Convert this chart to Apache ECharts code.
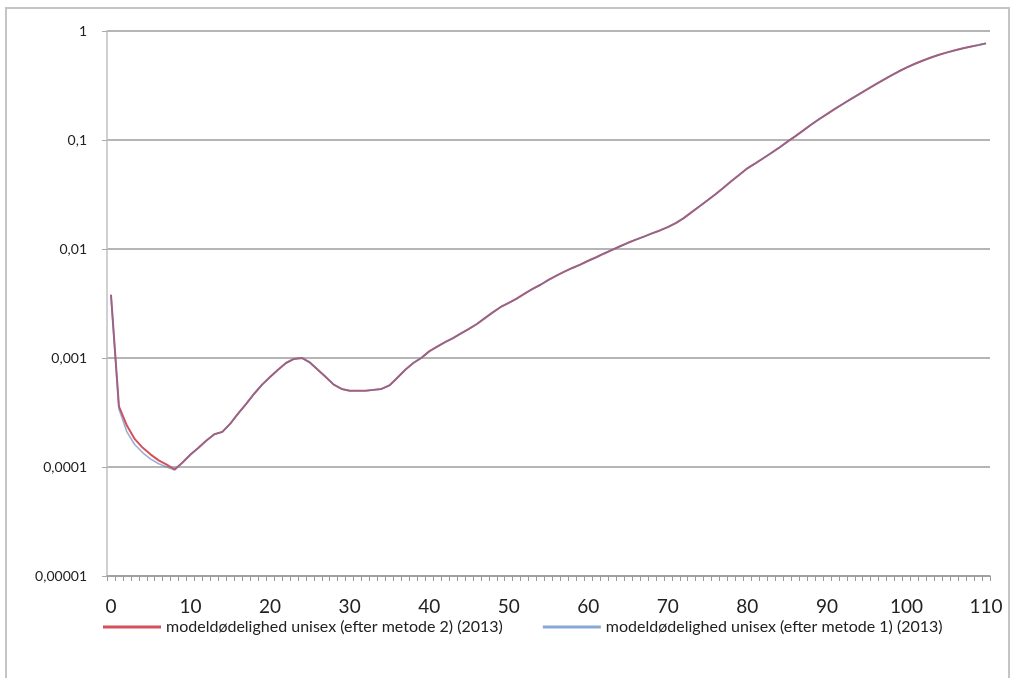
<!DOCTYPE html>
<html>
<head>
<meta charset="utf-8">
<script src="https://cdn.jsdelivr.net/npm/echarts@6/dist/echarts.min.js"></script>
<style>
  html, body {margin:0; padding:0; background:#fff;}
  #main {width:1014px; height:678px;}
</style>
</head>
<body>
<div id="main"></div>
<script type="text/javascript">
// alder 0..110
var ages = [];
for (var a = 0; a <= 110; a++) ages.push(String(a));

var yTickLabels = ['0,00001', '0,0001', '0,001', '0,01', '0,1', '1'];

var seriesNames = [
  'modeldødelighed unisex (efter metode 2) (2013)',
  'modeldødelighed unisex (efter metode 1) (2013)'
];

// metode 1 (blaa)
var metode1 = [
  0.0038, 0.00034, 0.00021, 0.00016, 0.000135, 0.000118, 0.000107, 0.0001, 0.000094, 0.00011,
  0.00013, 0.00015, 0.000175, 0.0002, 0.00021, 0.00025, 0.00031, 0.00038, 0.00047, 0.00057,
  0.00067, 0.00078, 0.0009, 0.00098, 0.001, 0.00091, 0.00078, 0.00067, 0.00057, 0.00052,
  0.0005, 0.0005, 0.0005, 0.00051, 0.00052, 0.00056, 0.00066, 0.00078, 0.0009, 0.001,
  0.00115, 0.00127, 0.0014, 0.00152, 0.00168, 0.00185, 0.00205, 0.00232, 0.00262, 0.00294,
  0.0032, 0.0035, 0.0039, 0.0043, 0.0047, 0.0052, 0.0057, 0.0062, 0.0067, 0.0072,
  0.0078, 0.0084, 0.0091, 0.0098, 0.0106, 0.0114, 0.0122, 0.013, 0.0139, 0.0148,
  0.0159, 0.0173, 0.0192, 0.0218, 0.0247, 0.028, 0.0318, 0.0365, 0.042, 0.048,
  0.055, 0.061, 0.068, 0.076, 0.085, 0.096, 0.108, 0.122, 0.138, 0.155,
  0.173, 0.193, 0.214, 0.237, 0.262, 0.29, 0.32, 0.353, 0.388, 0.425,
  0.462, 0.498, 0.533, 0.568, 0.602, 0.633, 0.663, 0.69, 0.716, 0.742,
  0.77
];

// metode 2 (roed) - ligger lidt hoejere for de smaa boern
var metode2 = [
  0.0038, 0.00036, 0.00024, 0.00018, 0.00015, 0.00013, 0.000115, 0.000105, 0.000095, 0.00011,
  0.00013, 0.00015, 0.000175, 0.0002, 0.00021, 0.00025, 0.00031, 0.00038, 0.00047, 0.00057,
  0.00067, 0.00078, 0.0009, 0.00098, 0.001, 0.00091, 0.00078, 0.00067, 0.00057, 0.00052,
  0.0005, 0.0005, 0.0005, 0.00051, 0.00052, 0.00056, 0.00066, 0.00078, 0.0009, 0.001,
  0.00115, 0.00127, 0.0014, 0.00152, 0.00168, 0.00185, 0.00205, 0.00232, 0.00262, 0.00294,
  0.0032, 0.0035, 0.0039, 0.0043, 0.0047, 0.0052, 0.0057, 0.0062, 0.0067, 0.0072,
  0.0078, 0.0084, 0.0091, 0.0098, 0.0106, 0.0114, 0.0122, 0.013, 0.0139, 0.0148,
  0.0159, 0.0173, 0.0192, 0.0218, 0.0247, 0.028, 0.0318, 0.0365, 0.042, 0.048,
  0.055, 0.061, 0.068, 0.076, 0.085, 0.096, 0.108, 0.122, 0.138, 0.155,
  0.173, 0.193, 0.214, 0.237, 0.262, 0.29, 0.32, 0.353, 0.388, 0.425,
  0.462, 0.498, 0.533, 0.568, 0.602, 0.633, 0.663, 0.69, 0.716, 0.742,
  0.77
];

var chart = echarts.init(document.getElementById('main'));

var option = {
  animation: false,
  backgroundColor: '#fff',
  textStyle: {fontFamily: 'Lato, "Open Sans", sans-serif'},
  graphic: [{
    type: 'rect',
    shape: {x: 6, y: 8, width: 1003, height: 690},
    style: {fill: 'none', stroke: '#c4c4c4', lineWidth: 2},
    silent: true
  }],
  grid: {left: 107, right: 24, top: 31, bottom: 102},
  legend: {
    left: 98,
    top: 614,
    itemWidth: 58,
    itemHeight: 3,
    itemGap: 40,
    icon: 'rect',
    data: seriesNames,
    textStyle: {fontSize: 16, color: '#222', fontFamily: 'Lato, sans-serif'}
  },
  xAxis: {
    type: 'category',
    data: ages,
    boundaryGap: true,
    axisLine: {lineStyle: {color: '#9a9a9a', width: 1.5}},
    axisTick: {show: true, interval: 0, length: 5, lineStyle: {color: '#9a9a9a'}},
    axisLabel: {interval: 9, fontSize: 19, color: '#222', margin: 21},
    splitLine: {show: false}
  },
  yAxis: {
    type: 'log',
    logBase: 10,
    min: 0.00001,
    max: 1,
    axisLine: {show: true, lineStyle: {color: '#c0c0c0', width: 1.5}},
    axisTick: {show: true, length: 5, lineStyle: {color: '#aaa'}},
    axisLabel: {
      fontSize: 14,
      color: '#222',
      margin: 20,
      formatter: function (v) {
        var i = Math.round(Math.log(v) / Math.LN10) + 5;
        return yTickLabels[i];
      }
    },
    splitLine: {show: true, lineStyle: {color: '#9c9c9c', width: 1.5}}
  },
  series: [
    {
      name: seriesNames[0],
      type: 'line',
      data: metode2,
      showSymbol: false,
      symbol: 'none',
      itemStyle: {color: '#d4505c'},
      lineStyle: {color: '#d4505c', width: 2}
    },
    {
      name: seriesNames[1],
      type: 'line',
      data: metode1,
      showSymbol: false,
      symbol: 'none',
      itemStyle: {color: '#8aa8d4'},
      lineStyle: {color: '#5a78b0', width: 1.6, opacity: 0.6}
    }
  ]
};

chart.setOption(option);
</script>
</body>
</html>
